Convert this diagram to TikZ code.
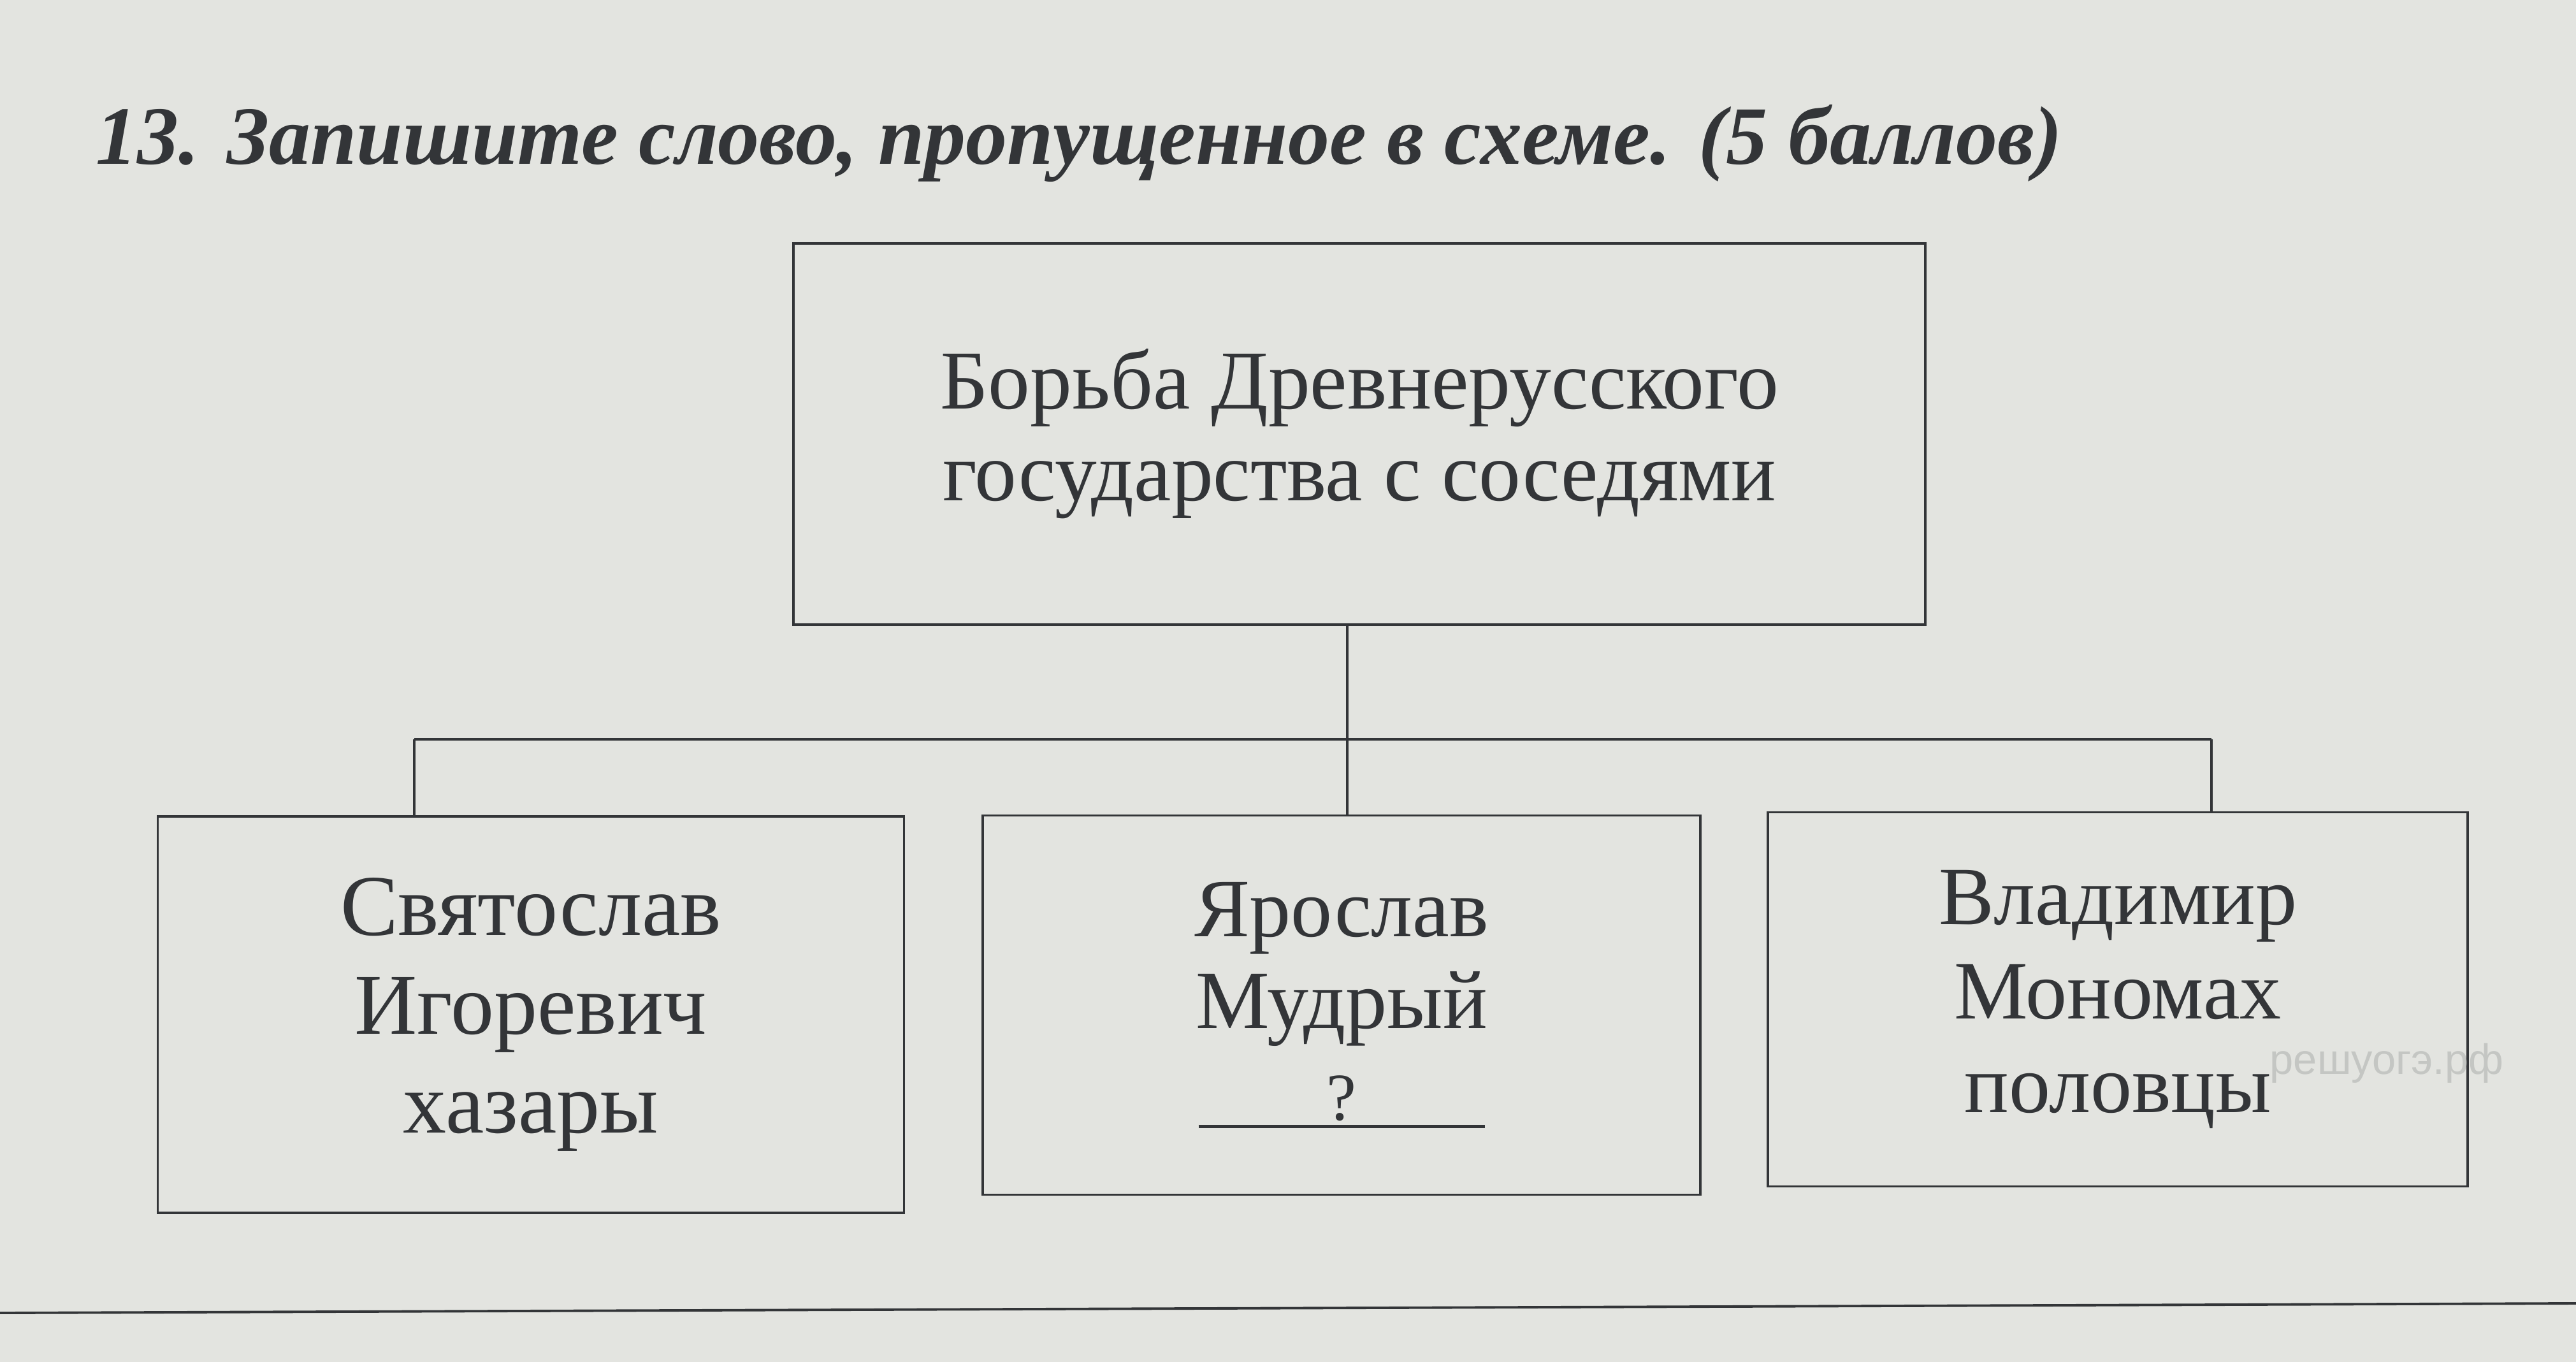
\documentclass[tikz,border=0pt]{standalone}
\usepackage{fontspec}
\setmainfont{Liberation Serif}
\setsansfont{Liberation Sans}
\usepackage{tikz}
\usetikzlibrary{
  positioning,
  calc
}
\definecolor{paper}{HTML}{E3E4E0}
\definecolor{ink}{HTML}{333538}
\definecolor{mark}{HTML}{C4C6C3}

\begin{document}
\begin{tikzpicture}[
        x=1cm, y=-1cm,
        scheme/.style={draw=ink, line width=1.1pt, align=center, text=ink,
            font=\fontsize{37}{44}\selectfont, inner sep=0pt},
        link/.style={draw=ink, line width=1.1pt}
    ]
        % фон страницы
        \fill[paper] (0,0) rectangle (40.42,21.37);
        \useasboundingbox (0,0) rectangle (40.42,21.37);

        % задание
        \node[anchor=base west, text=ink, font=\fontsize{37}{40}\selectfont\bfseries\itshape] (task) at (1.38,2.58)
            {13. Запишите слово, пропущенное в схеме. (5 баллов)};

        % схема
        \node[scheme, minimum width=17.76cm, minimum height=5.98cm, font=\fontsize{37.4}{41}\selectfont] (state) at (21.33,6.81)
            {Борьба Древнерусского\\государства с соседями};
        \node[scheme, minimum width=11.71cm, minimum height=6.22cm, font=\fontsize{38.7}{44}\selectfont] (svyat) at (8.33,15.92)
            {Святослав\\Игоревич\\хазары};
        \node[scheme, minimum width=11.26cm, minimum height=5.95cm, font=\fontsize{37}{41}\selectfont] (yarosl) at (21.05,15.77)
            {Ярослав\\Мудрый\\\makebox[0pt][l]{\rule[-0.12cm]{4.49cm}{1.3pt}}\makebox[4.49cm]{\fontsize{30}{36}\selectfont ?}};
        \node[scheme, minimum width=10.98cm, minimum height=5.87cm, font=\fontsize{37}{42}\selectfont] (vlad) at (33.23,15.68)
            {Владимир\\Мономах\\половцы};

        \coordinate (hub) at (21.14,11.60);
        \coordinate (hubL) at (6.50,11.60);
        \coordinate (hubR) at (34.70,11.60);
        \draw[link] (state.south -| hub) -- (hub);
        \draw[link] (hubL) -- (hubR);
        \draw[link] (hubL) -- (hubL |- svyat.north);
        \draw[link] (hub) -- (hub |- yarosl.north);
        \draw[link] (hubR) -- (hubR |- vlad.north);

        % водяной знак
        \node[text=mark, font=\fontsize{19}{22}\selectfont\sffamily] (stamp) at (37.45,16.68) {решуогэ.рф};

        % линия внизу
        \draw[link] (0,20.60) -- (40.42,20.45);
    \end{tikzpicture}
\end{document}
